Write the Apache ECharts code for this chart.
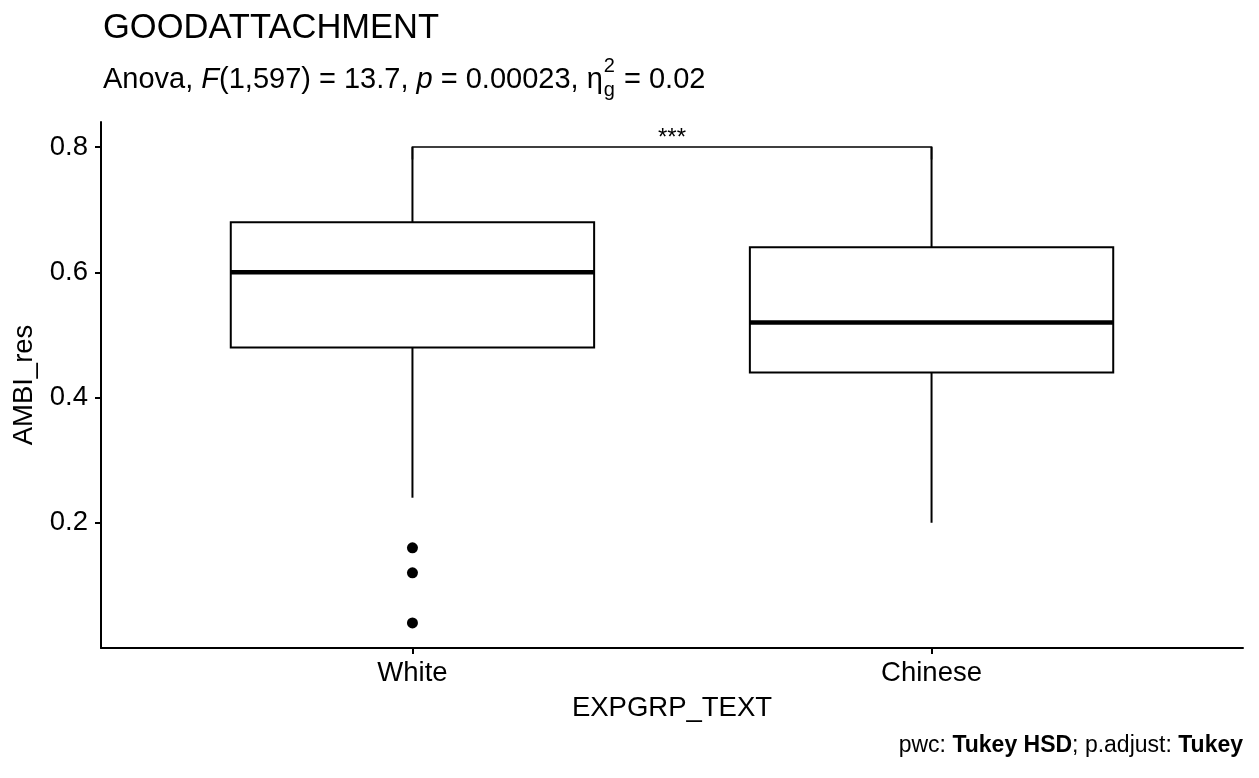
<!DOCTYPE html>
<html><head><meta charset="utf-8">
<script src="https://cdn.jsdelivr.net/npm/echarts@6/dist/echarts.min.js"></script>
<style>html,body{margin:0;padding:0;background:#fff}#c{width:1259px;height:778px}</style>
</head><body><div id="c"></div>
<script>
const categories = ['White', 'Chinese'];
const whiskerLow = [0.24, 0.20];
const q1 = [0.48, 0.44];
const median = [0.60, 0.52];
const q3 = [0.68, 0.64];
const whiskerHigh = [0.80, 0.80];
const outlierCategory = ['White', 'White', 'White'];
const outlierValues = [0.16, 0.12, 0.04];
const yTicks = [0.2, 0.4, 0.6, 0.8];
const bracketY = 0.80;
const bracketLabel = '***';

const FONT = '"Liberation Sans", Arial, Helvetica, sans-serif';
const BASE = 27.5;
const chart = echarts.init(document.getElementById('c'), null, {renderer: 'canvas'});

const boxData = categories.map((c, i) => [i + 1, whiskerLow[i], q1[i], median[i], q3[i], whiskerHigh[i]]);
const outlierData = outlierValues.map((v, i) => [categories.indexOf(outlierCategory[i]) + 1, v]);

function renderBox(params, api) {
  const x = api.value(0);
  const halfW = api.size([0.70, 0])[0] / 2;
  const pLow = api.coord([x, api.value(1)]);
  const pQ1 = api.coord([x, api.value(2)]);
  const pMed = api.coord([x, api.value(3)]);
  const pQ3 = api.coord([x, api.value(4)]);
  const pHigh = api.coord([x, api.value(5)]);
  const cx = pQ1[0];
  const st = {stroke: '#000', lineWidth: 2, fill: null};
  return {
    type: 'group',
    children: [
      {type: 'line', shape: {x1: cx, y1: pQ1[1], x2: cx, y2: pLow[1]}, style: st},
      {type: 'line', shape: {x1: cx, y1: pQ3[1], x2: cx, y2: pHigh[1]}, style: st},
      {type: 'rect', shape: {x: cx - halfW, y: pQ3[1], width: halfW * 2, height: pQ1[1] - pQ3[1]}, style: {stroke: '#000', lineWidth: 2, fill: '#fff'}},
      {type: 'line', shape: {x1: cx - halfW, y1: pMed[1], x2: cx + halfW, y2: pMed[1]}, style: {stroke: '#000', lineWidth: 4.5}}
    ]
  };
}

function renderBracket(params, api) {
  const a = api.coord([1, bracketY]);
  const b = api.coord([2, bracketY]);
  const tip = api.coord([1, bracketY - 0.02]);
  const st = {stroke: '#000', lineWidth: 1.6, fill: null};
  return {
    type: 'group',
    children: [
      {type: 'polyline', shape: {points: [[a[0], tip[1]], a, b, [b[0], tip[1]]]}, style: st},
      {type: 'text', style: {text: bracketLabel, x: (a[0] + b[0]) / 2, y: a[1] + 3, align: 'center', verticalAlign: 'bottom', font: '24px ' + FONT, fill: '#000'}}
    ]
  };
}

// Subtitle pieces measured so the stacked sub/superscript sits right after the eta
const mctx = document.createElement('canvas').getContext('2d');
function tw(txt, f) { mctx.font = f; return mctx.measureText(txt).width; }
const SUBF = 29;
const fN = SUBF + 'px ' + FONT, fI = 'italic ' + SUBF + 'px ' + FONT, fS = '20px ' + FONT;
const subParts = [['Anova, ', fN], ['F', fI], ['(1,597) = 13.7, ', fN], ['p', fI], [' = 0.00023, \u03B7', fN]];
const subX = 103, subTop = 65;
const subGraphics = [];
let cx = subX;
subParts.forEach(([t, f]) => {
  subGraphics.push({type: 'text', x: cx, y: subTop, style: {text: t, font: f, fill: '#000'}});
  cx += tw(t, f);
});
subGraphics.push({type: 'text', x: cx + 1, y: subTop - 9, style: {text: '2', font: fS, fill: '#000'}});
subGraphics.push({type: 'text', x: cx + 1, y: subTop + 15, style: {text: 'g', font: fS, fill: '#000'}});
subGraphics.push({type: 'text', x: cx + 2 + tw('g', fS), y: subTop, style: {text: ' = 0.02', font: fN, fill: '#000'}});

chart.setOption({
  backgroundColor: '#fff',
  animation: false,
  grid: {left: 101, right: 16, top: 122, bottom: 130, containLabel: false},
  xAxis: {
    type: 'value', min: 0.4, max: 2.6,
    splitLine: {show: false},
    axisLine: {show: true, onZero: false, lineStyle: {color: '#000', width: 2}},
    axisTick: {show: true, length: 6, lineStyle: {color: '#000', width: 2}, customValues: [1, 2]},
    axisLabel: {customValues: [1, 2], formatter: v => categories[Math.round(v) - 1] || '', color: '#000', fontSize: BASE, fontFamily: FONT, margin: 11},
    name: 'EXPGRP_TEXT', nameLocation: 'middle', nameGap: 46,
    nameTextStyle: {color: '#000', fontSize: BASE, fontFamily: FONT}
  },
  yAxis: {
    type: 'value', min: 0, max: 0.84,
    splitLine: {show: false},
    axisLine: {show: true, onZero: false, lineStyle: {color: '#000', width: 2}},
    axisTick: {show: true, length: 6, lineStyle: {color: '#000', width: 2}, customValues: yTicks},
    axisLabel: {customValues: yTicks, formatter: v => v.toFixed(1), color: '#000', fontSize: BASE, fontFamily: FONT, margin: 13},
    name: 'AMBI_res', nameLocation: 'middle', nameGap: 62, nameRotate: 90,
    nameTextStyle: {color: '#000', fontSize: BASE, fontFamily: FONT}
  },
  series: [
    {type: 'custom', renderItem: renderBox, data: boxData, encode: {x: 0, y: [1, 2, 3, 4, 5]}, silent: true, z: 2},
    {type: 'scatter', data: outlierData, symbol: 'circle', symbolSize: 11, itemStyle: {color: '#000', opacity: 1}, silent: true, z: 3},
    {type: 'custom', renderItem: renderBracket, data: [[1, bracketY]], encode: {x: 0, y: 1}, silent: true, z: 4}
  ],
  graphic: [
    {type: 'text', left: 103, top: 11, style: {text: 'GOODATTACHMENT', font: '34.5px ' + FONT, fill: '#000'}},
    {type: 'group', children: subGraphics},
    {type: 'text', right: 16, top: 734, style: {
      text: '{n|pwc: }{b|Tukey HSD}{n|; p.adjust: }{b|Tukey}',
      rich: {
        n: {font: '23px ' + FONT, fill: '#000'},
        b: {font: 'bold 23px ' + FONT, fill: '#000'}
      }
    }}
  ]
});
</script></body></html>
